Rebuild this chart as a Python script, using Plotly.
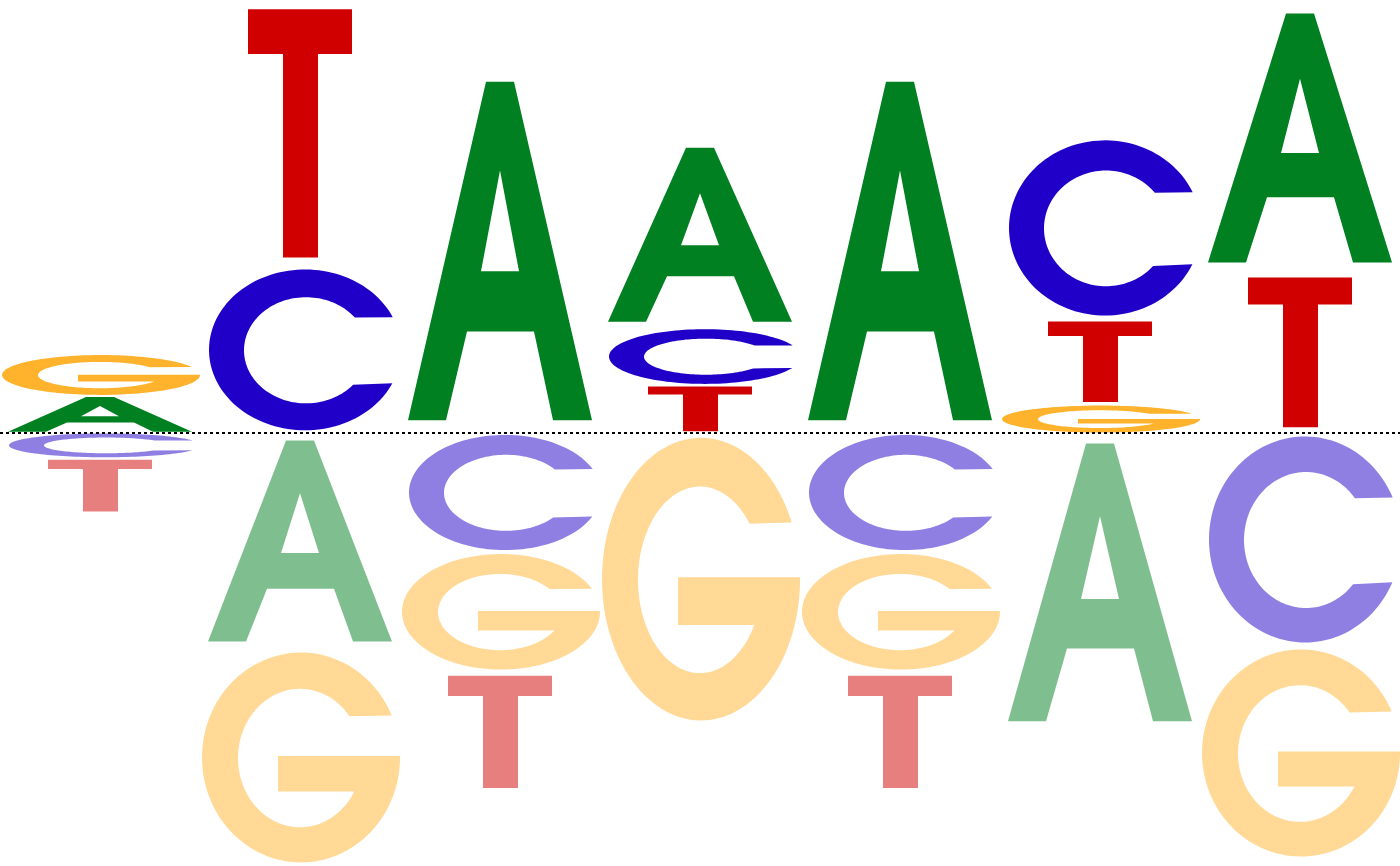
import numpy as np
import plotly.graph_objects as go

# sequence logo: letter heights per position (positive above the baseline, negative below)
positions = [1, 2, 3, 4, 5, 6, 7]
letters = ["A", "C", "G", "T"]

pos_A = [0.188, 0.0, 1.828, 0.940, 1.828, 0.0, 1.344]
pos_C = [0.0, 0.835, 0.0, 0.284, 0.0, 0.910, 0.0]
pos_G = [0.207, 0.0, 0.0, 0.0, 0.0, 0.140, 0.0]
pos_T = [0.0, 1.340, 0.0, 0.242, 0.0, 0.435, 0.810]

neg_A = [0.0, -1.085, 0.0, 0.0, 0.0, -1.500, 0.0]
neg_C = [-0.124, 0.0, -0.598, 0.0, -0.598, 0.0, -1.070]
neg_G = [0.0, -1.090, -0.600, -1.468, -0.600, 0.0, -1.075]
neg_T = [-0.280, 0.0, -0.607, 0.0, -0.607, 0.0, 0.0]

heights_pos = {"A": pos_A, "C": pos_C, "G": pos_G, "T": pos_T}
heights_neg = {"A": neg_A, "C": neg_C, "G": neg_G, "T": neg_T}

colors = {"A": (0, 128, 32), "C": (32, 0, 200), "G": (255, 179, 44), "T": (208, 0, 0)}

PAD = 0.035
OVERSHOOT = {"A": 0.0, "C": 0.02, "G": 0.02, "T": 0.0}


def arc(cx, cy, rx, ry, a0, a1, n=120):
    t = np.radians(np.linspace(a0, a1, n))
    return list(zip(cx + rx * np.cos(t), cy + ry * np.sin(t)))


# letter outlines in a unit box (x across the column, y from bottom to top)
glyph_A = [
    [(0.04, 0), (0.43, 1), (0.57, 1), (0.96, 0), (0.765, 0), (0.67, 0.262), (0.335, 0.262), (0.23, 0)],
    [(0.405, 0.44), (0.595, 0.44), (0.5, 0.738)],
]
glyph_T = [
    [(0.24, 1), (0.76, 1), (0.76, 0.82), (0.59, 0.82), (0.59, 0), (0.415, 0), (0.415, 0.82), (0.24, 0.82)],
]
glyph_C = [
    arc(0.525, 0.5, 0.48, 0.5, 24, 335.5) + arc(0.53, 0.4975, 0.31, 0.33, 319.4, 38),
]
glyph_G = [
    arc(0.505, 0.5, 0.495, 0.5, 23.6, 360)
    + [(1.0, 0.507), (0.39, 0.507), (0.39, 0.338), (0.78, 0.338)]
    + arc(0.5, 0.4975, 0.31, 0.33, 331, 37),
]
glyphs = {"A": glyph_A, "C": glyph_C, "G": glyph_G, "T": glyph_T}


def letter_trace(letter, x0, y_lo, y_hi, alpha):
    s = y_hi - y_lo
    flat = s * (1 - 2 * PAD)
    bottom = y_lo + s * PAD
    ov = OVERSHOOT[letter]
    xs, ys = [], []
    for part in glyphs[letter]:
        for gx, gy in part:
            xs.append(x0 + gx)
            ys.append(bottom + (gy * (1 + 2 * ov) - ov) * flat)
        xs.append(None)
        ys.append(None)
    r, g, b = colors[letter]
    return go.Scatter(
        x=xs, y=ys, mode="lines", fill="toself",
        fillcolor=f"rgba({r},{g},{b},{alpha})",
        line=dict(width=0, simplify=False, color=f"rgba({r},{g},{b},{alpha})"),
        hoverinfo="skip", showlegend=False,
    )


fig = go.Figure()
ymax = 0
for i in range(len(positions)):
    up = sorted([(heights_pos[l][i], l) for l in letters if heights_pos[l][i] > 0])
    base = 0.0
    for h, l in up:
        fig.add_trace(letter_trace(l, i, base, base + h, 1.0))
        base += h
    ymax = max(ymax, base)
    down = sorted([(-heights_neg[l][i], l) for l in letters if heights_neg[l][i] < 0])
    base = 0.0
    for h, l in down:
        fig.add_trace(letter_trace(l, i, base - h, base, 0.5))
        base -= h
    ymax = max(ymax, -base)

fig.add_shape(type="line", xref="paper", x0=0, x1=1, y0=0, y1=0,
              line=dict(color="black", width=2, dash="dot"), layer="above")

fig.update_layout(
    width=1400, height=866,
    margin=dict(l=0, r=0, t=0, b=0),
    paper_bgcolor="white", plot_bgcolor="white",
    xaxis=dict(range=[0, len(positions)], visible=False, fixedrange=True),
    yaxis=dict(range=[-ymax, ymax], visible=False, fixedrange=True),
    showlegend=False,
)

fig.write_html("out.html", config={"displayModeBar": False},
               post_script="document.body.style.margin='0';")
